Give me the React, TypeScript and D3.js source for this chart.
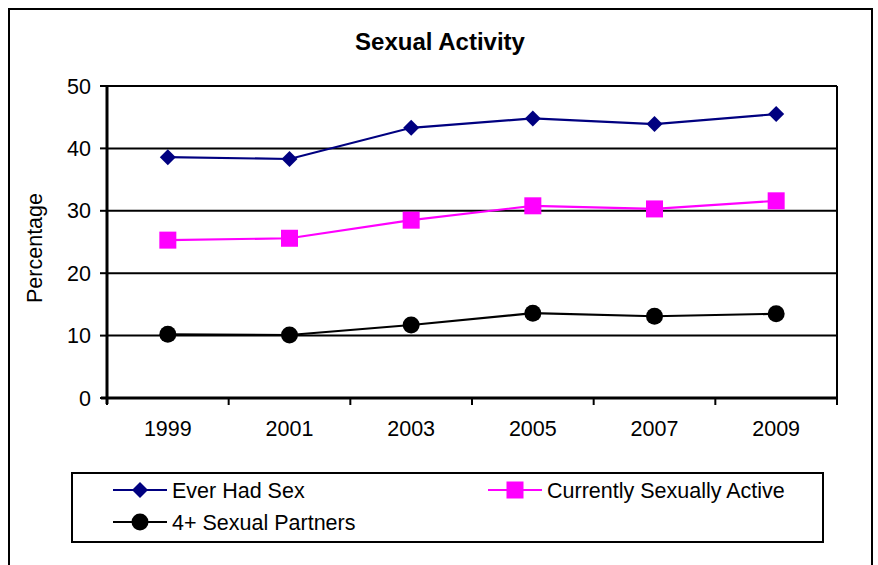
import React from "react";
import * as d3 from "d3";

const years = ["1999", "2001", "2003", "2005", "2007", "2009"];
const everHadSex = [38.6, 38.3, 43.3, 44.8, 43.9, 45.5];
const currentlyActive = [25.3, 25.6, 28.5, 30.8, 30.3, 31.6];
const fourPlus = [10.2, 10.1, 11.7, 13.6, 13.1, 13.5];
const yTicks = [0, 10, 20, 30, 40, 50];

const W = 878, H = 565;
const plot = { left: 107, right: 837, top: 86, bottom: 398 };
const FONT = "Liberation Sans, Arial, sans-serif";

export default function App() {
  const x = d3.scaleBand().domain(years).range([plot.left, plot.right]);
  const y = d3.scaleLinear().domain([0, 50]).range([plot.bottom, plot.top]);
  const cx = (yr: string) => (x(yr) as number) + x.bandwidth() / 2;
  const line = d3.line<number>().x((_, i) => cx(years[i])).y((v) => y(v));

  const diamond = (px: number, py: number, r = 8) =>
    `M${px},${py - r}L${px + r},${py}L${px},${py + r}L${px - r},${py}Z`;

  const series = [
    { name: "Ever Had Sex", data: everHadSex, color: "#000080", marker: "diamond" },
    { name: "Currently Sexually Active", data: currentlyActive, color: "#FF00FF", marker: "square" },
    { name: "4+ Sexual Partners", data: fourPlus, color: "#000000", marker: "circle" },
  ];

  const marker = (m: string, px: number, py: number, color: string, key: any) => {
    if (m === "diamond") return <path key={key} d={diamond(px, py)} fill={color} />;
    if (m === "square") return <rect key={key} x={px - 8.5} y={py - 8.5} width={17} height={17} fill={color} />;
    return <circle key={key} cx={px} cy={py} r={8.5} fill={color} />;
  };

  const legendItems = [
    { s: series[0], lx: 113, ly: 490 },
    { s: series[1], lx: 488, ly: 490 },
    { s: series[2], lx: 113, ly: 522 },
  ];

  return (
    <svg width={W} height={H} style={{ position: "absolute", left: 0, top: 0, background: "#fff" }} fontFamily={FONT}>
      <rect x={0} y={0} width={W} height={H} fill="#fff" />
      <rect x={9} y={9} width={863} height={H + 10} fill="none" stroke="#000" strokeWidth={2} />
      <text x={440} y={50} textAnchor="middle" fontSize={24} fontWeight="bold">Sexual Activity</text>

      {/* gridlines */}
      {yTicks.filter((t) => t > 0).map((t) => (
        <line key={t} x1={plot.left} x2={plot.right} y1={y(t)} y2={y(t)} stroke="#000" strokeWidth={2} />
      ))}
      {/* plot border right */}
      <line x1={plot.right} x2={plot.right} y1={plot.top} y2={plot.bottom} stroke="#000" strokeWidth={2} />
      {/* axes */}
      <line x1={plot.left} x2={plot.left} y1={plot.top - 1} y2={plot.bottom + 6} stroke="#000" strokeWidth={3} />
      <line x1={plot.left - 6} x2={plot.right + 1} y1={plot.bottom} y2={plot.bottom} stroke="#000" strokeWidth={3} />
      {yTicks.map((t) => (
        <g key={t}>
          <line x1={plot.left - 7} x2={plot.left} y1={y(t)} y2={y(t)} stroke="#000" strokeWidth={2} />
          <text x={91} y={y(t) + 7.5} textAnchor="end" fontSize={21.5}>{t}</text>
        </g>
      ))}
      {years.map((yr, i) => (
        <line key={"xt" + i} x1={x(yr) as number} x2={x(yr) as number} y1={plot.bottom} y2={plot.bottom + 7} stroke="#000" strokeWidth={2} />
      ))}
      <line x1={plot.right} x2={plot.right} y1={plot.bottom} y2={plot.bottom + 7} stroke="#000" strokeWidth={2} />
      {years.map((yr) => (
        <text key={yr} x={cx(yr)} y={436} textAnchor="middle" fontSize={21.5}>{yr}</text>
      ))}
      <text transform={`translate(42,248) rotate(-90)`} textAnchor="middle" fontSize={21.5}>Percentage</text>

      {series.map((s) => (
        <g key={s.name}>
          <path d={line(s.data) as string} fill="none" stroke={s.color} strokeWidth={2.2} />
          {s.data.map((v, i) => marker(s.marker, cx(years[i]), y(v), s.color, i))}
        </g>
      ))}

      {/* legend */}
      <rect x={72} y={473} width={751} height={69} fill="#fff" stroke="#000" strokeWidth={2} />
      {legendItems.map(({ s, lx, ly }) => (
        <g key={s.name}>
          <line x1={lx} x2={lx + 54} y1={ly} y2={ly} stroke={s.color} strokeWidth={2.2} />
          {marker(s.marker, lx + 27, ly, s.color, 0)}
          <text x={lx + 59} y={ly + 7.5} fontSize={21.5}>{s.name}</text>
        </g>
      ))}
    </svg>
  );
}
